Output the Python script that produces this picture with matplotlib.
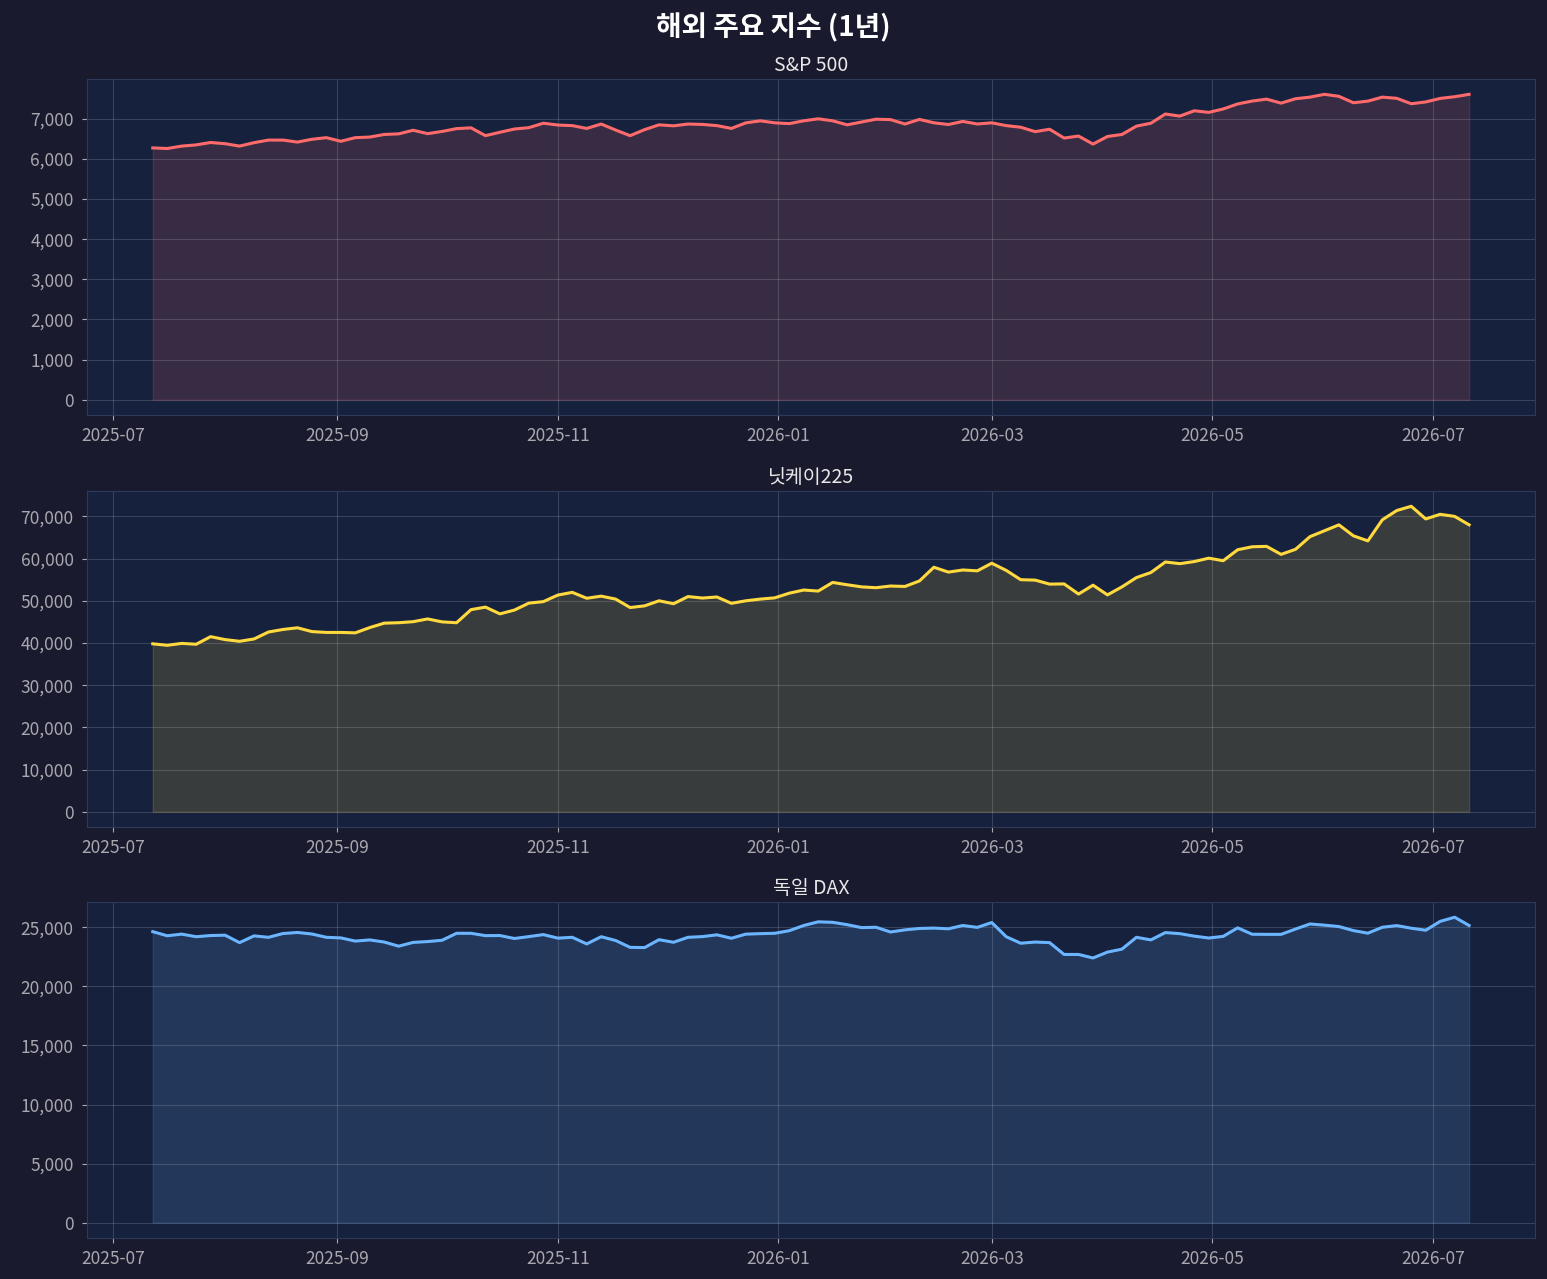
import numpy as np
import pandas as pd
import matplotlib
matplotlib.use("Agg")
import matplotlib.pyplot as plt
import matplotlib.dates as mdates
from matplotlib.ticker import FuncFormatter

plt.rcParams['font.family'] = ['Noto Sans CJK KR', 'DejaVu Sans']

# sampled every 4 days over one year
dates = pd.date_range('2025-07-12', periods=92, freq='4D')

sp500 = [6275, 6260, 6320, 6350, 6410, 6380, 6320, 6405, 6470, 6470,
         6420, 6490, 6530, 6440, 6530, 6545, 6610, 6625, 6715, 6630,
         6685, 6755, 6775, 6580, 6665, 6745, 6780, 6890, 6845, 6830,
         6760, 6870, 6720, 6580, 6730, 6850, 6825, 6870, 6860, 6830,
         6760, 6900, 6950, 6900, 6880, 6950, 7000, 6950, 6850, 6920,
         6990, 6980, 6870, 6985, 6900, 6858, 6935, 6870, 6900, 6830,
         6790, 6680, 6740, 6520, 6570, 6370, 6560, 6610, 6817, 6890,
         7120, 7067, 7200, 7160, 7245, 7370, 7442, 7490, 7390, 7500,
         7540, 7610, 7560, 7400, 7440, 7540, 7510, 7375, 7420, 7508,
         7550, 7610]

nikkei = [39800, 39450, 39900, 39700, 41500, 40800, 40400, 40950, 42600, 43200,
          43600, 42700, 42500, 42500, 42400, 43650, 44700, 44800, 45050, 45700,
          45000, 44800, 47900, 48500, 46900, 47800, 49450, 49800, 51350, 52000,
          50600, 51100, 50400, 48400, 48800, 50000, 49300, 51000, 50650, 50900,
          49400, 50000, 50400, 50700, 51800, 52550, 52300, 54350, 53800, 53300,
          53100, 53500, 53400, 54700, 57950, 56800, 57300, 57100, 58900, 57200,
          55000, 54900, 53950, 54000, 51600, 53700, 51400, 53300, 55500, 56700,
          59200, 58800, 59300, 60100, 59500, 62100, 62800, 62900, 61000, 62200,
          65200, 66600, 68000, 65400, 64200, 69200, 71400, 72400, 69400, 70500,
          70000, 68000]

dax = [24630, 24280, 24420, 24200, 24300, 24330, 23700, 24270, 24150, 24470,
       24560, 24430, 24150, 24100, 23830, 23930, 23750, 23400, 23720, 23790,
       23900, 24490, 24490, 24290, 24300, 24050, 24210, 24380, 24080, 24150,
       23590, 24200, 23880, 23300, 23280, 23950, 23730, 24150, 24210, 24360,
       24070, 24420, 24460, 24490, 24710, 25150, 25460, 25420, 25220, 24970,
       25000, 24600, 24780, 24900, 24930, 24870, 25150, 24990, 25400, 24200,
       23650, 23750, 23700, 22700, 22700, 22400, 22900, 23150, 24150, 23930,
       24550, 24460, 24250, 24090, 24230, 24950, 24410, 24400, 24400, 24850,
       25280, 25180, 25060, 24720, 24500, 25000, 25140, 24920, 24750, 25500,
       25850, 25150]

titles = ['S&P 500', '닛케이225', '독일 DAX']
colors = ['#ff6b6b', '#ffd93d', '#6bb5ff']
series = [sp500, nikkei, dax]

fig_bg = '#1a1a2e'
ax_bg = '#16213e'

fig = plt.figure(figsize=(15.47, 12.79), dpi=100, facecolor=fig_bg)
fig.suptitle('해외 주요 지수 (1년)', color='white', fontsize=20,
             fontweight='bold', y=0.99)

bottoms = [0.6755, 0.3534, 0.0321]
for i in range(3):
    ax = fig.add_axes([0.0562, bottoms[i], 0.936, 0.2627])
    ax.set_facecolor(ax_bg)
    vals = np.array(series[i])
    ax.plot(dates, vals, color=colors[i], lw=2.2)
    ax.fill_between(dates, vals, 0, color=colors[i], alpha=0.15)
    ax.set_title(titles[i], color='#e8e8e8', fontsize=14, pad=6)
    ax.xaxis.set_major_locator(mdates.MonthLocator(bymonth=[1, 3, 5, 7, 9, 11]))
    ax.xaxis.set_major_formatter(mdates.DateFormatter('%Y-%m'))
    ax.yaxis.set_major_formatter(FuncFormatter(lambda v, p: f'{v:,.0f}'))
    ax.tick_params(colors='#a8a8b0', labelsize=12.5)
    ax.tick_params(axis='y', pad=6)
    ax.tick_params(axis='x', pad=5)
    ax.grid(True, color='white', alpha=0.15, lw=0.8)
    for s in ax.spines.values():
        s.set_color('#2e3a5c')

fig.savefig('out.png', dpi=100, facecolor=fig_bg)
